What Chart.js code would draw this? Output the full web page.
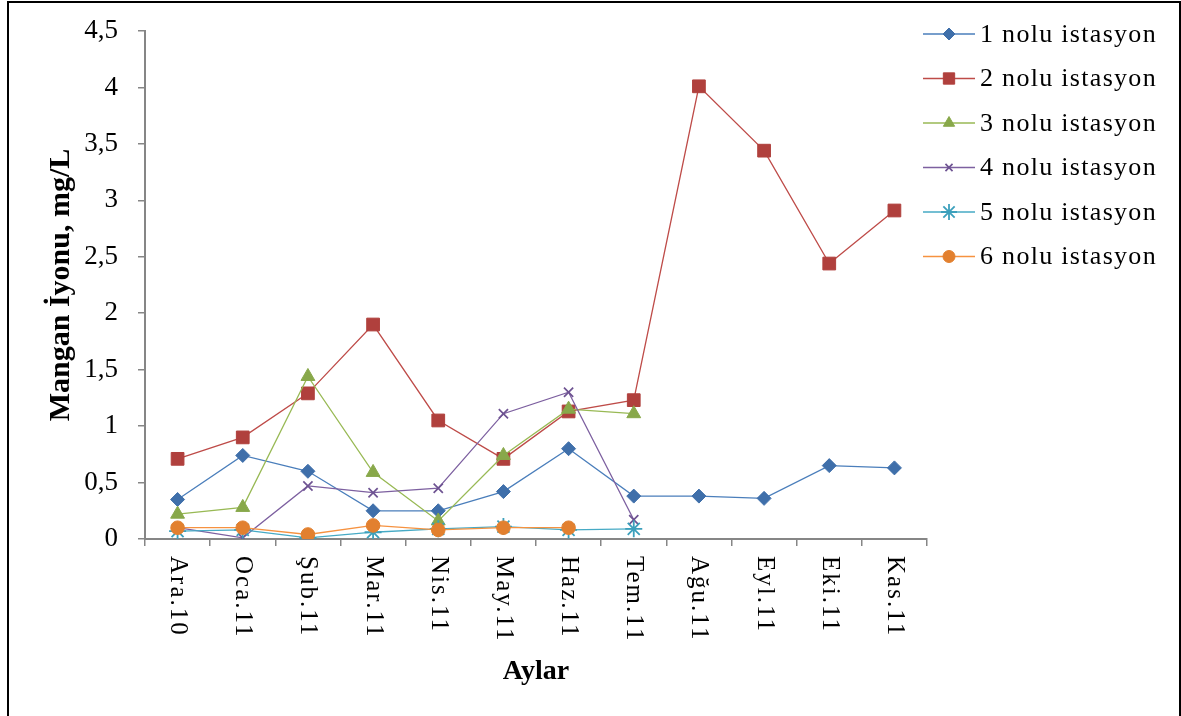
<!DOCTYPE html>
<html>
<head>
<meta charset="utf-8">
<title>Mangan İyonu</title>
<script src="https://cdn.jsdelivr.net/npm/chart.js@4.4.1/dist/chart.umd.min.js"></script>
<style>
  html, body { margin: 0; padding: 0; background: #fff; }
  #wrap { position: relative; width: 1181px; height: 716px; overflow: hidden; }
  #frame { position: absolute; left: 7px; top: 1px; width: 1170px; height: 800px; border: 2px solid #000; pointer-events: none; }
</style>
</head>
<body>
<div id="wrap">
  <canvas id="chart" width="1181" height="716"></canvas>
  <div id="frame"></div>
</div>
<script>
// Months (Dec 2010 - Nov 2011)
const MONTHS = ['Ara.10', 'Oca.11', 'Şub.11', 'Mar.11', 'Nis.11', 'May.11',
                'Haz.11', 'Tem.11', 'Ağu.11', 'Eyl.11', 'Eki.11', 'Kas.11'];

// Manganese ion, mg/L, per station
const ISTASYON_1 = [0.35, 0.74, 0.60, 0.25, 0.25, 0.42, 0.80, 0.38, 0.38, 0.36, 0.65, 0.63];
const ISTASYON_2 = [0.71, 0.90, 1.29, 1.90, 1.05, 0.71, 1.13, 1.23, 4.01, 3.44, 2.44, 2.91];
const ISTASYON_3 = [0.22, 0.28, 1.44, 0.59, 0.16, 0.74, 1.15, 1.11];
const ISTASYON_4 = [0.10, 0.01, 0.47, 0.41, 0.45, 1.11, 1.30, 0.17];
const ISTASYON_5 = [0.07, 0.08, 0.01, 0.06, 0.09, 0.11, 0.08, 0.09];
const ISTASYON_6 = [0.10, 0.10, 0.04, 0.12, 0.08, 0.10, 0.10];

const SERIES_NAMES = ['1 nolu istasyon', '2 nolu istasyon', '3 nolu istasyon',
                      '4 nolu istasyon', '5 nolu istasyon', '6 nolu istasyon'];
const SERIES_DATA = [ISTASYON_1, ISTASYON_2, ISTASYON_3, ISTASYON_4, ISTASYON_5, ISTASYON_6];

const Y_TICKS = { min: 0, max: 4.5, step: 0.5 };

// line colour, marker colour, marker style, marker radius, legend marker radius, marker stroke
const STYLES = [
  { line: '#4A7EBB', mark: '#3F6FAA', shape: 'rectRot',  r: 7,   lr: 6,   bw: 1 },
  { line: '#BE4B48', mark: '#B0403D', shape: 'rect',     r: 9,   lr: 8,   bw: 1 },
  { line: '#98B954', mark: '#88A84A', shape: 'triangle', r: 8,   lr: 6.5, bw: 1 },
  { line: '#7D60A0', mark: '#6E5392', shape: 'crossRot', r: 6.5, lr: 5,   bw: 1.7 },
  { line: '#46AAC5', mark: '#3CA0BC', shape: 'star',     r: 8.5, lr: 8,   bw: 1.8 },
  { line: '#F69240', mark: '#E2802F', shape: 'circle',   r: 6.8, lr: 6,   bw: 1 }
];

const SERIF = '"Liberation Serif", "Times New Roman", serif';
const AXIS_GREY = '#868686';

const datasets = SERIES_DATA.map((data, i) => ({
  label: SERIES_NAMES[i],
  data,
  borderColor: STYLES[i].line,
  backgroundColor: STYLES[i].mark,
  borderWidth: 1.3,
  tension: 0,
  pointStyle: STYLES[i].shape,
  pointRadius: STYLES[i].r,
  pointBackgroundColor: STYLES[i].mark,
  pointBorderColor: STYLES[i].mark,
  pointBorderWidth: STYLES[i].bw,
  order: SERIES_DATA.length - i   // later stations on top
}));

// Month names, read top-down under each category
const monthLabels = {
  id: 'monthLabels',
  afterDraw(chart) {
    const { ctx, scales: { x } } = chart;
    ctx.save();
    ctx.font = '25px ' + SERIF;
    ctx.letterSpacing = '2px';
    ctx.fillStyle = '#000';
    ctx.textAlign = 'left';
    ctx.textBaseline = 'middle';
    MONTHS.forEach((m, i) => {
      ctx.save();
      ctx.translate(x.getPixelForValue(i), x.top + 17);
      ctx.rotate(Math.PI / 2);
      ctx.fillText(m, 0, 0);
      ctx.restore();
    });
    ctx.restore();
  }
};

// Excel-like legend: short line with the marker in the middle
const sideLegend = {
  id: 'sideLegend',
  afterDraw(chart) {
    const ctx = chart.ctx;
    const x0 = 923, x1 = 975, top = 34, gap = 44.5;
    ctx.save();
    chart.data.datasets.forEach((ds, i) => {
      const st = STYLES[i];
      const y = top + i * gap;
      ctx.strokeStyle = st.line;
      ctx.lineWidth = 1.6;
      ctx.beginPath();
      ctx.moveTo(x0, y);
      ctx.lineTo(x1, y);
      ctx.stroke();

      ctx.fillStyle = st.mark;
      ctx.strokeStyle = st.mark;
      ctx.lineWidth = st.bw;
      Chart.helpers.drawPoint(ctx, {
        pointStyle: st.shape, radius: st.lr, rotation: 0, borderWidth: st.bw
      }, (x0 + x1) / 2, y);

      ctx.fillStyle = '#000';
      ctx.font = '26px ' + SERIF;
      ctx.letterSpacing = '1.3px';
      ctx.textAlign = 'left';
      ctx.textBaseline = 'middle';
      ctx.fillText(ds.label, 980, y + 1);
    });
    ctx.restore();
  }
};

new Chart(document.getElementById('chart'), {
  type: 'line',
  data: { labels: MONTHS, datasets },
  options: {
    responsive: false,
    animation: false,
    devicePixelRatio: 1,
    events: [],
    layout: { padding: { left: 0, right: 254, top: 31, bottom: 0 } },
    plugins: {
      legend: { display: false },
      tooltip: { enabled: false }
    },
    scales: {
      x: {
        type: 'category',
        offset: true,
        grid: {
          offset: true,
          drawOnChartArea: false,
          tickLength: 7,
          color: AXIS_GREY,
          lineWidth: 1.5
        },
        border: { color: AXIS_GREY, width: 2 },
        ticks: { display: false },
        title: {
          display: true,
          text: 'Aylar',
          color: '#000',
          font: { family: SERIF, size: 28, weight: 'bold' },
          padding: { top: 0, bottom: 27 }
        },
        afterFit: (s) => { s.height = 177; }
      },
      y: {
        min: Y_TICKS.min,
        max: Y_TICKS.max,
        grid: {
          drawOnChartArea: false,
          tickLength: 7,
          color: AXIS_GREY,
          lineWidth: 1.5
        },
        border: { color: AXIS_GREY, width: 2 },
        ticks: {
          stepSize: Y_TICKS.step,
          color: '#000',
          padding: 20,
          // tight line height so the top label does not push the plot down
          font: { family: SERIF, size: 27, lineHeight: 0.8 },
          callback: (v) => String(v).replace('.', ',')
        },
        title: {
          display: true,
          text: 'Mangan İyonu, mg/L',
          color: '#000',
          font: { family: SERIF, size: 30, weight: 'bold' },
          padding: { top: 43, bottom: 0 }
        },
        afterFit: (s) => { s.width = 145; }
      }
    }
  },
  plugins: [monthLabels, sideLegend]
});
</script>
</body>
</html>
